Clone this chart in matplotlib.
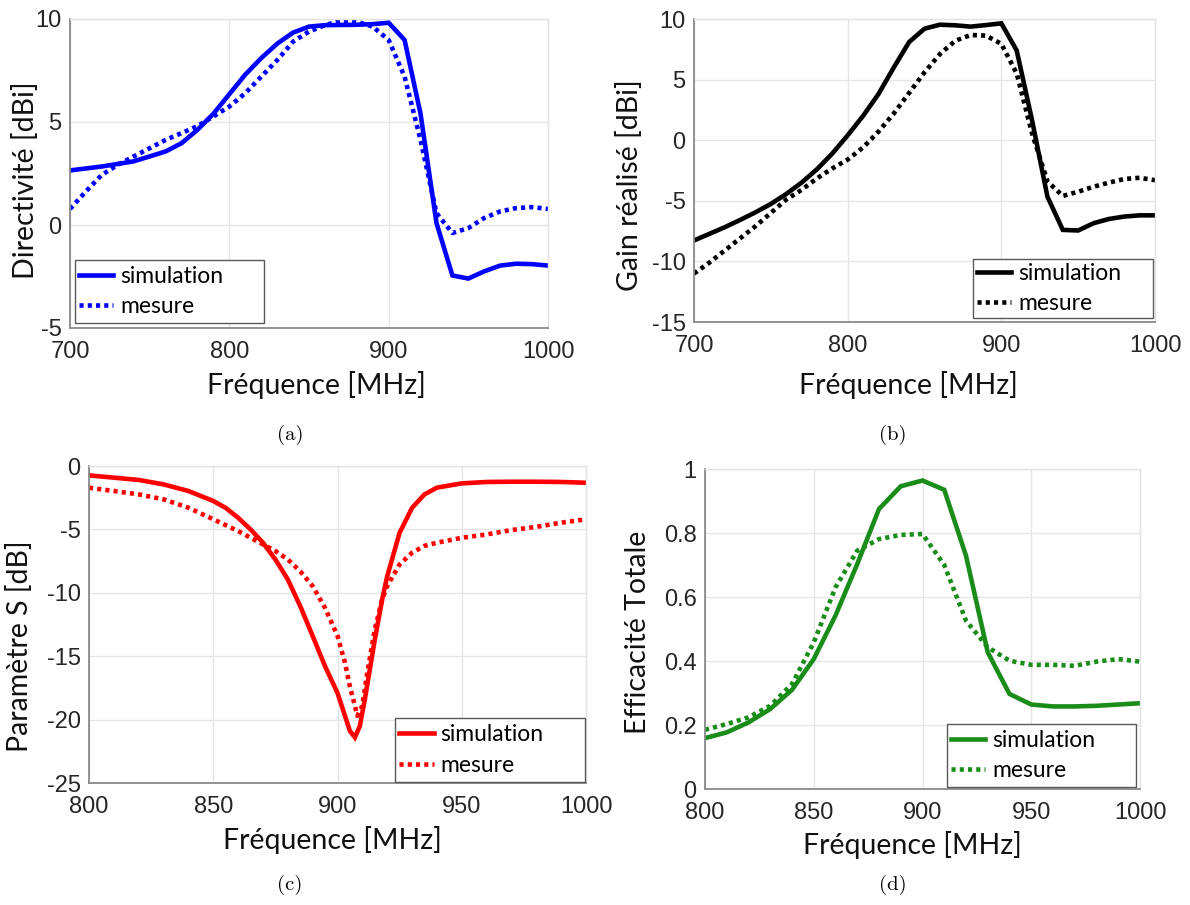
import matplotlib
matplotlib.use('Agg')
import matplotlib.pyplot as plt
from matplotlib.ticker import FuncFormatter
from matplotlib.patches import Rectangle

plt.rcParams['font.family'] = ['Liberation Sans', 'DejaVu Sans']

# ---------------- data ----------------
# (a) Directivité
freq_a_sim = [700, 720, 740, 760, 770, 780, 790, 800, 810, 820, 830, 840, 850, 860, 870,
              880, 890, 900, 910, 920, 930, 940, 950, 960, 970, 980, 990, 1000]
dir_sim = [2.65, 2.84, 3.09, 3.57, 3.97, 4.62, 5.4, 6.35, 7.3, 8.1, 8.8, 9.34, 9.63, 9.7, 9.71,
           9.72, 9.75, 9.82, 8.98, 5.4, 0.1, -2.45, -2.6, -2.25, -1.97, -1.88, -1.9, -1.97]
freq_a_mes = list(range(700, 1001, 10))
dir_mes = [0.78, 1.63, 2.44, 2.92, 3.33, 3.73, 4.13, 4.46, 4.8, 5.27, 5.75, 6.4, 7.2, 8.0, 8.9,
           9.39, 9.7, 9.92, 9.87, 9.63, 8.98, 7.2, 4.13, 0.58, -0.39, -0.15, 0.34, 0.66, 0.82,
           0.87, 0.78]

# (b) Gain réalisé
freq_b = list(range(700, 1001, 10))
gain_sim = [-8.27, -7.73, -7.18, -6.58, -5.95, -5.26, -4.44, -3.5, -2.4, -1.1, 0.4, 2.0, 3.8,
            6.0, 8.1, 9.2, 9.53, 9.48, 9.37, 9.5, 9.64, 7.4, 1.64, -4.66, -7.4, -7.45, -6.85,
            -6.5, -6.3, -6.2, -6.2]
gain_mes = [-11.0, -10.1, -9.1, -8.1, -7.1, -6.0, -4.9, -4.1, -3.15, -2.33, -1.6, -0.6, 0.7,
            2.2, 3.9, 5.6, 7.1, 8.2, 8.68, 8.63, 7.95, 5.5, 0.55, -3.4, -4.6, -4.25, -3.84,
            -3.5, -3.2, -3.1, -3.3]

# (c) Paramètre S
freq_c_sim = [800, 810, 820, 830, 840, 850, 855, 860, 865, 870, 875, 880, 885, 890, 895, 900,
              903, 905, 907, 909, 911, 913, 915, 918, 920, 925, 930, 935, 940, 950, 960, 970,
              980, 990, 1000]
s_sim = [-0.74, -0.92, -1.1, -1.45, -1.97, -2.76, -3.3, -4.08, -5.0, -6.05, -7.37, -8.95,
         -11.05, -13.4, -15.8, -17.9, -19.7, -20.9, -21.4, -20.5, -18.4, -16.05, -13.7, -10.5,
         -8.7, -5.26, -3.3, -2.24, -1.71, -1.37, -1.26, -1.24, -1.24, -1.26, -1.32]
freq_c_mes = [800, 810, 820, 830, 840, 850, 860, 870, 875, 880, 885, 890, 895, 900, 903, 905,
              907, 908, 910, 912, 915, 918, 920, 925, 930, 935, 940, 950, 960, 970, 980, 990,
              1000]
s_mes = [-1.71, -1.97, -2.24, -2.63, -3.29, -4.2, -5.13, -6.18, -6.7, -7.37, -8.3, -9.47,
         -11.2, -13.4, -15.5, -17.4, -18.9, -19.7, -18.9, -16.3, -12.9, -10.5, -9.47, -7.76,
         -6.84, -6.3, -6.05, -5.66, -5.4, -5.05, -4.8, -4.47, -4.2]

# (d) Efficacité totale
freq_d = list(range(800, 1001, 10))
eff_sim = [0.159, 0.177, 0.208, 0.25, 0.31, 0.406, 0.542, 0.703, 0.875, 0.946, 0.964, 0.935,
           0.729, 0.427, 0.297, 0.264, 0.258, 0.258, 0.26, 0.264, 0.268]
eff_mes = [0.185, 0.203, 0.224, 0.26, 0.328, 0.458, 0.63, 0.745, 0.781, 0.794, 0.797, 0.70,
           0.526, 0.443, 0.401, 0.388, 0.388, 0.385, 0.398, 0.406, 0.398]

legend_labels = ['simulation', 'mesure']
xlabel = 'Fréquence [MHz]'

# ---------------- style ----------------
W, H = 1190, 905
fig = plt.figure(figsize=(W / 100, H / 100), dpi=100)

LABEL_FONT = 'Lato'
LW = 3.3
DOT = (0, (0.9, 0.9))


def setup(box, xlim, xticks, ylim, yticks, ylabel, color, x_sim, y_sim, x_mes, y_mes,
          legbox, xl_pos, xl_off, yl_pos, yl_off):
    l, t, r, b = box
    wpx, hpx = r - l, b - t
    ax = fig.add_axes([l / W, 1 - b / H, wpx / W, hpx / H])
    ax.plot(x_sim, y_sim, color=color, lw=LW, solid_joinstyle='miter', label=legend_labels[0])
    ax.plot(x_mes, y_mes, color=color, lw=LW, ls=DOT, dash_capstyle='butt',
            label=legend_labels[1])
    ax.set_xlim(*xlim)
    ax.set_ylim(*ylim)
    ax.set_xticks(xticks)
    ax.set_yticks(yticks)
    ax.yaxis.set_major_formatter(FuncFormatter(lambda v, p: '%g' % v))
    ax.grid(True, color='#e6e6e6', lw=1.0)
    ax.set_axisbelow(True)
    for s in ['top', 'right']:
        ax.spines[s].set_color('#e3e3e3')
        ax.spines[s].set_linewidth(1.0)
    for s in ['left', 'bottom']:
        ax.spines[s].set_color('#8a8a8a')
        ax.spines[s].set_linewidth(1.3)
    ax.tick_params(direction='in', length=0, labelsize=17, labelcolor='#262626')
    ax.tick_params(axis='x', pad=9)
    ax.tick_params(axis='y', pad=6)
    ax.set_xlabel(xlabel, fontsize=20.5, fontfamily=LABEL_FONT, color='#111111', va='center')
    ax.xaxis.set_label_coords(xl_pos, -xl_off / hpx)
    ax.set_ylabel(ylabel, fontsize=20.5, fontfamily=LABEL_FONT, color='#111111', va='center')
    ax.yaxis.set_label_coords(-yl_off / wpx, yl_pos)
    # legend box
    x0, y0, x1, y1 = legbox
    ax.add_patch(Rectangle((x0, y0), x1 - x0, y1 - y0, transform=ax.transAxes,
                           facecolor='white', edgecolor='#5a5a5a', lw=1.0, zorder=6,
                           clip_on=False))
    leg = ax.legend(loc='center left', bbox_to_anchor=(x0 + 4 / wpx, (y0 + y1) / 2),
                    borderaxespad=0, borderpad=0, frameon=False,
                    prop={'family': LABEL_FONT, 'size': 16.5}, handlelength=1.5,
                    handletextpad=0.3, labelspacing=0.42)
    leg.set_zorder(7)
    return ax


setup((70, 19, 548, 328), (700, 1000), [700, 800, 900, 1000], (-5, 10), [-5, 0, 5, 10],
      'Directivité [dBi]', '#0000ff', freq_a_sim, dir_sim, freq_a_mes, dir_mes,
      (0.0105, 0.016, 0.406, 0.22), 0.516, 57, 0.479, 44)

setup((694, 19, 1155, 322), (700, 1000), [700, 800, 900, 1000], (-15, 10),
      [-15, -10, -5, 0, 5, 10],
      'Gain réalisé [dBi]', '#000000', freq_b, gain_sim, freq_b, gain_mes,
      (0.605, 0.013, 0.996, 0.208), 0.466, 63, 0.452, 64)

setup((89, 466, 586, 783), (800, 1000), [800, 850, 900, 950, 1000], (-25, 0),
      [-25, -20, -15, -10, -5, 0],
      'Paramètre S [dB]', '#ff0000', freq_c_sim, s_sim, freq_c_mes, s_mes,
      (0.616, 0.003, 0.998, 0.205), 0.49, 57, 0.432, 69)

setup((705, 469, 1140, 789), (800, 1000), [800, 850, 900, 950, 1000], (0, 1),
      [0, 0.2, 0.4, 0.6, 0.8, 1],
      'Efficacité Totale', '#198c19', freq_d, eff_sim, freq_d, eff_mes,
      (0.556, 0.006, 0.991, 0.203), 0.478, 56, 0.49, 67)

for txt, x, y in [('(a)', 290, 435), ('(b)', 893, 435), ('(c)', 290, 885), ('(d)', 893, 885)]:
    fig.text(x / W, 1 - y / H, txt, ha='center', va='center', fontsize=15,
             fontfamily='cmr10')

fig.savefig('out.png', dpi=100)
